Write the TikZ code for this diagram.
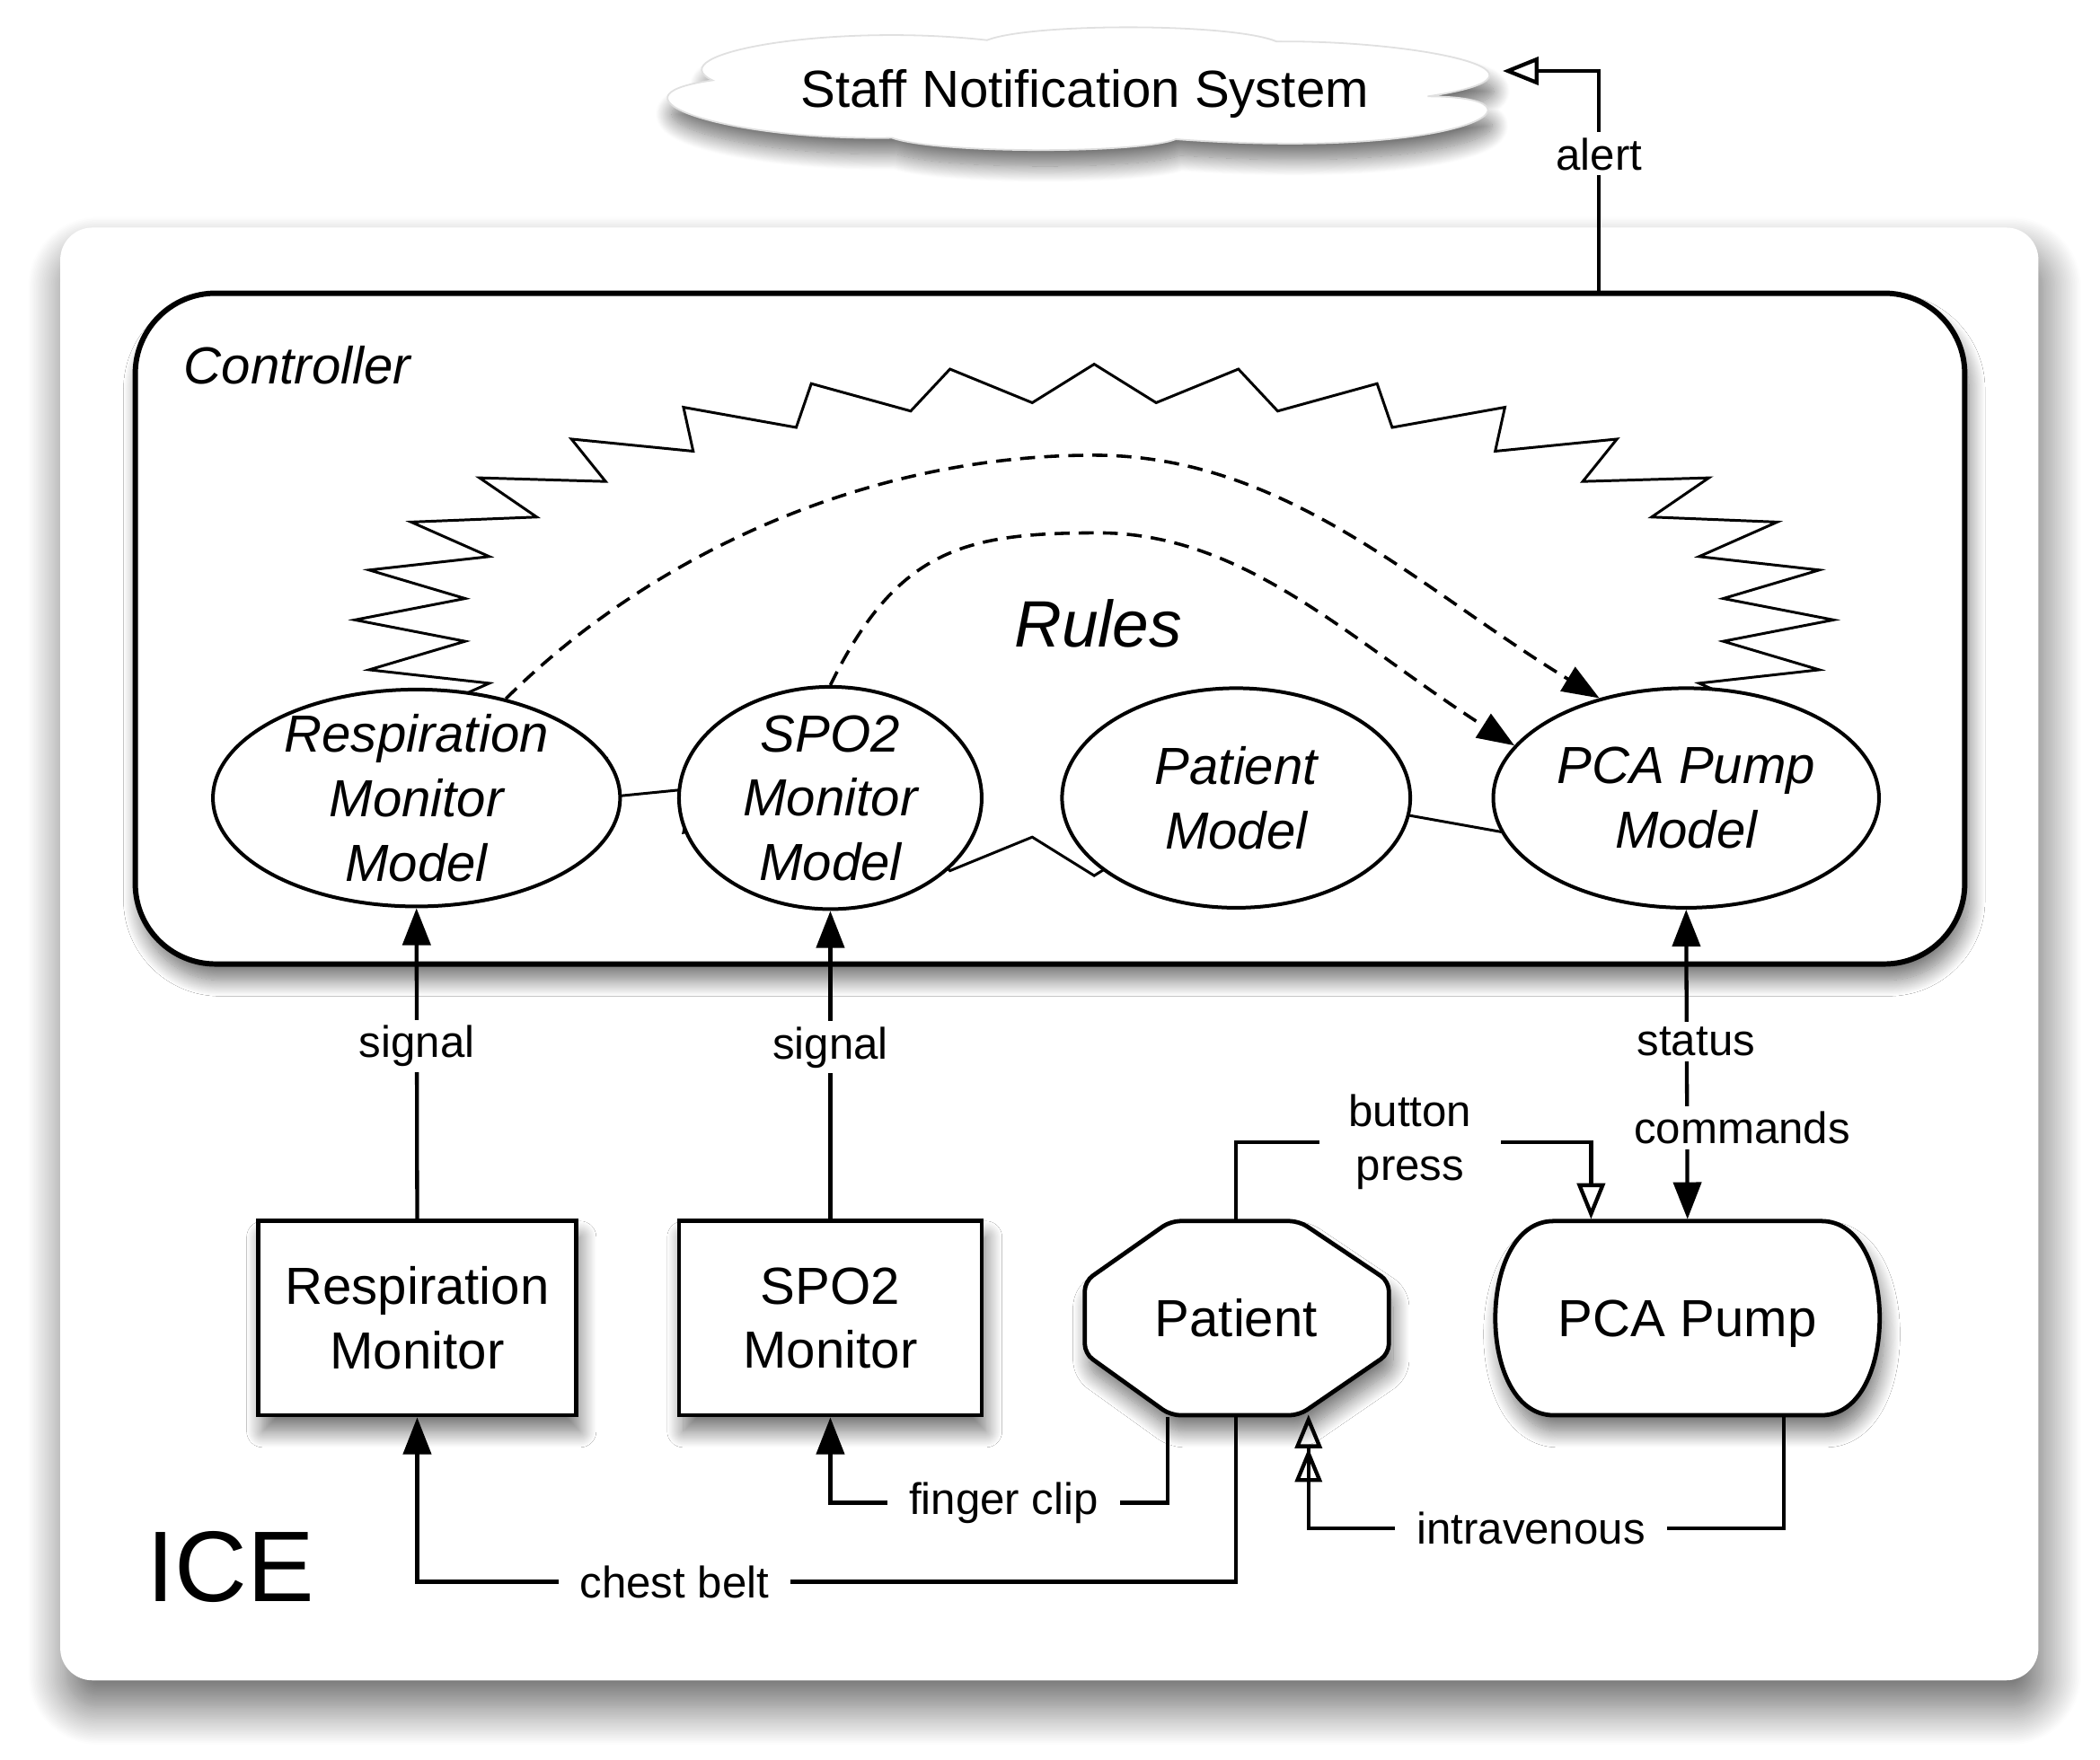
\documentclass[tikz,border=0pt]{standalone}
\usepackage{fontspec}
\setmainfont{Liberation Sans}
\usetikzlibrary{arrows.meta,shapes.geometric,positioning,shadows.blur}

\begin{document}
\begin{tikzpicture}[x=0.25pt, y=-0.25pt, thick, line width=0.72pt,
  >={Triangle[length=6.9pt,width=5.2pt,fill=black]},
  every text node part/.style={align=center},
  big/.style={font=\fontsize{9.75}{12}\selectfont},
  small/.style={font=\fontsize{8.25}{10}\selectfont, fill=white, fill opacity=1, inner xsep=4pt, inner ysep=1pt},
  softshadow/.style={blur shadow={shadow xshift=0.8pt, shadow yshift=-3pt, shadow blur radius=3pt,
    shadow blur steps=20, shadow opacity=55}},
  ice/.style={rectangle, fill=white, rounded corners=6pt, minimum width=369.25pt, minimum height=271.25pt,
    blur shadow={shadow xshift=1pt, shadow yshift=-5pt, shadow blur radius=7pt, shadow blur steps=25, shadow opacity=60}},
  ctrlbox/.style={draw, rectangle, fill=white, rounded corners=15pt, line width=1pt,
    minimum width=341.5pt, minimum height=125.25pt, softshadow},
  box/.style={draw, rectangle, fill=white, line width=0.8pt, minimum height=36.25pt, inner sep=0pt, big, softshadow},
  ghost/.style={rectangle, minimum height=36.25pt, inner sep=0pt, text height=7pt, text depth=0pt, big},
  model/.style={draw, ellipse, fill=white, line width=0.67pt, inner xsep=0pt, inner ysep=-6pt,
    font=\fontsize{9.75}{12}\selectfont\itshape},
  burst/.style={line width=0.5pt, line join=miter},
  wire/.style={->, fill opacity=1, draw opacity=1},
  rule/.style={wire, line width=0.6pt, dash pattern=on 2.8pt off 1.7pt},
  openhead/.style={fill opacity=1, -{Triangle[open,length=6.7pt,width=5.2pt]}},
  ivhead/.style={fill opacity=1, -{Triangle[open,length=6.3pt,width=5pt]Triangle[open,length=6.3pt,width=5pt]}}]
\useasboundingbox (0,0) rectangle (1568,1314);

\filldraw[fill=white, draw=black!12, line width=0.3pt, softshadow]
  (532,60) .. controls (490,40) and (620,17) .. (737,30)
  .. controls (770,17) and (920,17) .. (953,31)
  .. controls (1060,30) and (1180,55) .. (1066,72)
  .. controls (1165,72) and (1100,120) .. (878,104)
  .. controls (850,115) and (700,115) .. (666,103)
  .. controls (540,105) and (445,72) .. (532,60) -- cycle;
\node[big] (sns) at (810,70) {Staff Notification System};
\coordinate (snsr) at (1122,53);

\draw
  node at (783.5,712.5)[ice](ice){}
  node at (784,469.5)[ctrlbox](ctrl){}
  node at (136,273)[big, anchor=west, inner sep=0pt, font=\fontsize{9.75}{12}\selectfont\itshape](ctrllbl){Controller}
  node at (108,1170)[anchor=west, inner sep=0pt, font=\fontsize{18.75}{22}\selectfont](icelbl){ICE};

\draw[burst] (1369,463)
  \foreach \k in {0,...,31} {
    -- ({817+472*cos(\k*11.25+5.625)},{463+163*sin(\k*11.25+5.625)})
    -- ({817+552*cos(\k*11.25+11.25)},{463+191*sin(\k*11.25+11.25)})
  } -- cycle;
\node[font=\fontsize{12.25}{14}\selectfont\itshape] (rules) at (820,466) {Rules};

\draw
  node at (311,596)[model, minimum width=76pt, minimum height=40.5pt](respm){Respiration\\Monitor\\Model}
  node at (620,596)[model, minimum width=56.5pt, minimum height=41.5pt](spo2m){SPO2\\Monitor\\Model}
  node at (923,596)[model, minimum width=65pt, minimum height=41pt](patm){Patient\\Model}
  node at (1259,596)[model, minimum width=72pt, minimum height=41pt](pcam){PCA Pump\\Model}
  node at (311.5,984.5)[box, minimum width=59.25pt](resp){Respiration\\Monitor}
  node at (620,984.5)[box, minimum width=56.5pt](spo2){SPO2\\Monitor};

\filldraw[fill=white, line width=0.8pt, rounded corners=1.75pt, softshadow]
  (874,912) -- (970,912) -- (1037,957) -- (1037,1011) -- (970,1057)
  -- (874,1057) -- (810,1011) -- (810,957) -- cycle;
\filldraw[fill=white, line width=0.8pt, softshadow]
  (1160,912) -- (1360,912) .. controls (1418,912) and (1418,1057) .. (1360,1057)
  -- (1160,1057) .. controls (1102,1057) and (1102,912) .. (1160,912) -- cycle;
\draw
  node at (923,984.5)[ghost, minimum width=56.5pt](pat){Patient}
  node at (1260,984.5)[ghost, minimum width=71.5pt](pump){PCA Pump};

\draw[rule] (respm.48) .. controls (480,420) and (640,340) .. (817,340)
  .. controls (960,340) and (1060,440) .. (pcam.131);
\draw[rule] (spo2m.north) .. controls (670,410) and (720,398) .. (820,398)
  .. controls (930,398) and (1010,480) .. (pcam.163);

\draw[wire] (resp.north) -- node[small, pos=0.557]{signal} (respm.south);
\draw[wire] (spo2.north) -- node[small, pos=0.557]{signal} (spo2m.south);
\draw[wire, <->] (pump.north) -- node[small, pos=0.295, xshift=10.25pt]{commands}
  node[small, pos=0.573, xshift=1.75pt]{status} (pcam.south);
\coordinate (bend) at (1188,853);
\draw[openhead] (pat.north) |- node[small, pos=0.745, inner xsep=5.5pt]{button\\press} (bend) -- (bend |- pump.north);
\draw[wire] ([xshift=-12.75pt]pat.south) -- ++(0,64) -| node[small, pos=0.243]{finger clip} (spo2.south);
\draw[wire] (pat.south) -- ++(0,123) -| node[small, pos=0.343]{chest belt} (resp.south);
\draw[ivhead] ([xshift=18pt]pump.south) -- ++(0,83) -| node[small, pos=0.266]{intravenous} ([xshift=13.5pt,yshift=0.5pt]pat.south);
\draw[openhead] ([xshift=102.5pt]ctrl.north) |- node[small, pos=0.311]{alert} (snsr);
\end{tikzpicture}
\end{document}
